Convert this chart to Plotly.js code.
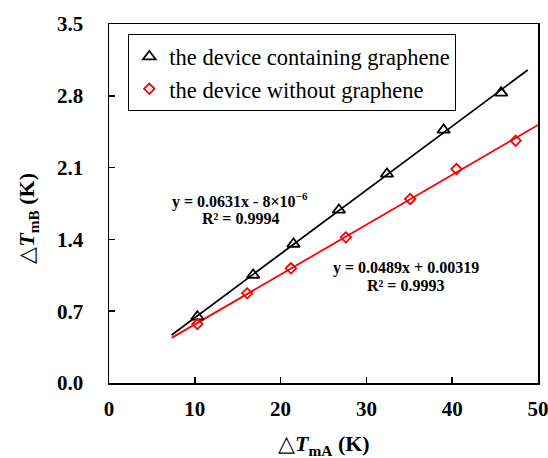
<!DOCTYPE html>
<html>
<head>
<meta charset="utf-8">
<script src="https://cdn.plot.ly/plotly-3.0.1.min.js"></script>
<style>html,body{margin:0;padding:0;background:#fff;}#chart{width:548px;height:458px;}</style>
</head>
<body>
<div id="chart"></div>
<script>
// Data
const seriesNames = ["the device containing graphene", "the device without graphene"];
const xGraphene = [10.3, 16.8, 21.5, 26.8, 32.4, 39.0, 45.7];
const yGraphene = [0.646, 1.053, 1.355, 1.687, 2.038, 2.467, 2.829];
const xNoGraphene = [10.3, 16.1, 21.2, 27.6, 35.1, 40.5, 47.4];
const yNoGraphene = [0.575, 0.874, 1.118, 1.420, 1.794, 2.086, 2.362];
const trendXGraphene = [7.3, 48.8];
const trendXNoGraphene = [7.3, 50];
const yTicks = [0.0, 0.7, 1.4, 2.1, 2.8, 3.5];
const xTicks = [0, 10, 20, 30, 40, 50];
const xTitle = "△<b><i>T</i><sub>mA</sub> (K)</b>";
const yTitle = "△<b><i>T</i><sub>mB</sub> (K)</b>";
const eqGraphene = ["y = 0.0631x - 8×10<sup>−6</sup>", "R² = 0.9994"];
const eqNoGraphene = ["y = 0.0489x + 0.00319", "R² = 0.9993"];

function fit(xs, ys) {
  const n = xs.length;
  const mx = xs.reduce((a, b) => a + b, 0) / n;
  const my = ys.reduce((a, b) => a + b, 0) / n;
  let sxy = 0, sxx = 0;
  for (let i = 0; i < n; i++) { sxy += (xs[i] - mx) * (ys[i] - my); sxx += (xs[i] - mx) ** 2; }
  const m = sxy / sxx;
  return { m: m, b: my - m * mx };
}
const fg = fit(xGraphene, yGraphene);
const fn = fit(xNoGraphene, yNoGraphene);

const serif = "Liberation Serif";

const traces = [
  { x: trendXGraphene, y: trendXGraphene.map(v => fg.m * v + fg.b), mode: "lines",
    line: { color: "#000000", width: 1.8 }, showlegend: false, hoverinfo: "skip" },
  { x: trendXNoGraphene, y: trendXNoGraphene.map(v => fn.m * v + fn.b), mode: "lines",
    line: { color: "#ff0000", width: 1.8 }, showlegend: false, hoverinfo: "skip" },
  { x: xGraphene, y: yGraphene, mode: "markers", name: seriesNames[0],
    marker: { symbol: "triangle-up-open", size: 11, color: "#000000", line: { width: 1.8, color: "#000000" } } },
  { x: xNoGraphene, y: yNoGraphene, mode: "markers", name: seriesNames[1],
    marker: { symbol: "diamond-open", size: 8, color: "#ff0000", line: { width: 1.8, color: "#ff0000" } } }
];

const axisCommon = {
  showline: true, linecolor: "#000", linewidth: 1.5, mirror: true,
  ticks: "inside", ticklen: 6, tickwidth: 1.5, tickcolor: "#000",
  showgrid: false, zeroline: false, ticklabeloverflow: "allow",
  tickfont: { family: serif, size: 21, color: "#000", weight: "bold" }
};

const annFont = { family: serif, size: 16, color: "#000" };
const titleFont = { family: serif, size: 22, color: "#000" };

const layout = {
  width: 548, height: 458,
  margin: { l: 109, r: 10, t: 24, b: 75 },
  paper_bgcolor: "#fff", plot_bgcolor: "#fff",
  showlegend: true,
  font: { family: serif, color: "#000" },
  legend: {
    x: 0.045, y: 0.971, xanchor: "left", yanchor: "top",
    bordercolor: "#000", borderwidth: 1, bgcolor: "#fff",
    font: { family: serif, size: 22.5, color: "#000" },
    traceorder: "normal", itemwidth: 30
  },
  xaxis: Object.assign({}, axisCommon, {
    range: [0, 50], tickvals: xTicks, ticktext: xTicks.map(String), ticklabelstandoff: 6
  }),
  yaxis: Object.assign({}, axisCommon, {
    range: [0, 3.5], tickvals: yTicks, ticktext: yTicks.map(v => v.toFixed(1)), ticklabelstandoff: 20
  }),
  annotations: [
    { x: 15.3, y: 1.784, text: "<b>" + eqGraphene[0] + "</b>" },
    { x: 15.3, y: 1.599, text: "<b>" + eqGraphene[1] + "</b>" },
    { x: 34.6, y: 1.118, text: "<b>" + eqNoGraphene[0] + "</b>" },
    { x: 34.6, y: 0.951, text: "<b>" + eqNoGraphene[1] + "</b>" }
  ].map(a => Object.assign({ xref: "x", yref: "y", showarrow: false, xanchor: "center", yanchor: "middle",
    font: annFont }, a)).concat([
    { xref: "paper", yref: "paper", x: 0.5, y: -0.172, text: xTitle, showarrow: false,
      xanchor: "center", yanchor: "middle", font: titleFont },
    { xref: "paper", yref: "paper", x: -0.189, y: 0.46, text: yTitle, showarrow: false, textangle: -90,
      xanchor: "center", yanchor: "middle", font: titleFont }
  ])
};

Plotly.newPlot("chart", traces, layout, { displayModeBar: false, staticPlot: true });
</script>
</body>
</html>
